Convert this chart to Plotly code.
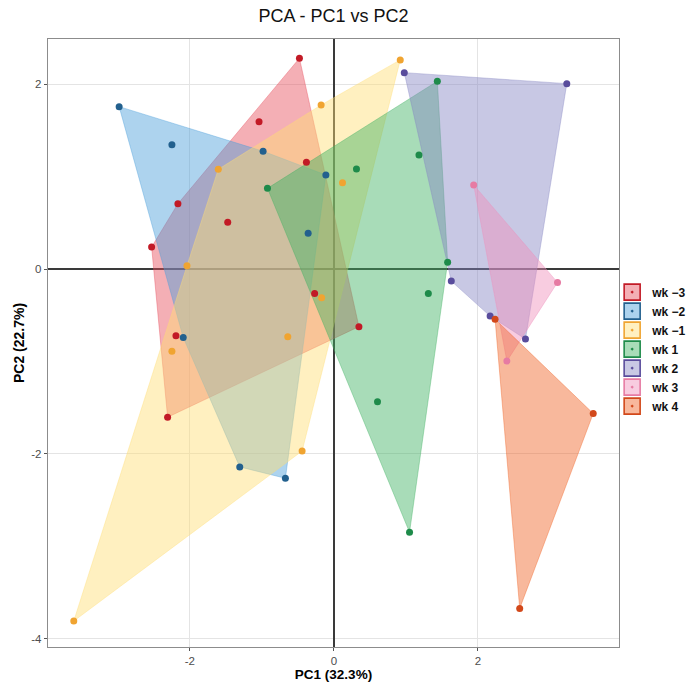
import plotly.graph_objects as go

# ---- data ----
groups = ["wk −3", "wk −2", "wk −1", "wk 1", "wk 2", "wk 3", "wk 4"]

pc1_wk_m3 = [-0.478, -1.039, -0.381, -2.166, -1.474, -2.531, -0.267, 0.348, -2.193, -2.309]
pc2_wk_m3 = [2.282, 1.595, 1.156, 0.707, 0.506, 0.238, -0.263, -0.623, -0.722, -1.603]

pc1_wk_m2 = [-2.982, -2.249, -0.983, -0.111, -0.357, -2.092, -1.307, -0.673]
pc2_wk_m2 = [1.758, 1.346, 1.275, 1.018, 0.388, -0.740, -2.141, -2.264]

pc1_wk_m1 = [0.922, -0.177, -1.605, 0.120, -2.040, -0.170, -0.640, -2.249, -0.441, -3.612]
pc2_wk_m1 = [2.264, 1.776, 1.080, 0.935, 0.036, -0.309, -0.733, -0.888, -1.969, -3.809]

pc1_wk_1 = [1.437, 1.182, -0.922, 0.314, 1.580, 1.312, 0.606, 1.051]
pc2_wk_1 = [2.033, 1.235, 0.874, 1.083, 0.074, -0.263, -1.437, -2.848]

pc1_wk_2 = [0.978, 3.235, 1.631, 2.170, 2.661]
pc2_wk_2 = [2.126, 2.007, -0.130, -0.509, -0.758]

pc1_wk_3 = [1.942, 3.106, 2.403]
pc2_wk_3 = [0.910, -0.144, -0.996]

pc1_wk_4 = [2.239, 3.602, 2.581]
pc2_wk_4 = [-0.542, -1.563, -3.672]

pc1_all = [pc1_wk_m3, pc1_wk_m2, pc1_wk_m1, pc1_wk_1, pc1_wk_2, pc1_wk_3, pc1_wk_4]
pc2_all = [pc2_wk_m3, pc2_wk_m2, pc2_wk_m1, pc2_wk_1, pc2_wk_2, pc2_wk_3, pc2_wk_4]

x_ticks = [-2, 0, 2]
x_tick_labels = ["-2", "0", "2"]
y_ticks = [-4, -2, 0, 2]
y_tick_labels = ["-4", "-2", "0", "2"]

# ---- styles ----
point_colors = ["#C21A26", "#22608E", "#F0A431", "#1E8B4A", "#594C9C", "#E67BA3", "#D2481A"]
fill_bases = [(231, 77, 91), (73, 157, 217), (255, 222, 115), (62, 177, 97),
              (133, 133, 195), (239, 142, 186), (239, 97, 35)]
fill_alpha = 0.45


def rgba(c, a):
    return "rgba(%d,%d,%d,%.3f)" % (c[0], c[1], c[2], a)


def convex_hull(xs, ys):
    pts = sorted(set(zip(xs, ys)))
    if len(pts) <= 2:
        return pts

    def cross(o, a, b):
        return (a[0] - o[0]) * (b[1] - o[1]) - (a[1] - o[1]) * (b[0] - o[0])

    lower = []
    for p in pts:
        while len(lower) >= 2 and cross(lower[-2], lower[-1], p) <= 0:
            lower.pop()
        lower.append(p)
    upper = []
    for p in reversed(pts):
        while len(upper) >= 2 and cross(upper[-2], upper[-1], p) <= 0:
            upper.pop()
        upper.append(p)
    return lower[:-1] + upper[:-1]


fig = go.Figure()

# hull polygons
for g, xs, ys, fb in zip(groups, pc1_all, pc2_all, fill_bases):
    hull = convex_hull(xs, ys)
    hx = [p[0] for p in hull] + [hull[0][0]]
    hy = [p[1] for p in hull] + [hull[0][1]]
    fig.add_trace(go.Scatter(
        x=hx, y=hy, mode="lines", fill="toself",
        fillcolor=rgba(fb, fill_alpha),
        line=dict(color=rgba(fb, 0.55), width=0.7),
        legendgroup=g, showlegend=False, hoverinfo="skip"))

# points
for g, xs, ys, pc in zip(groups, pc1_all, pc2_all, point_colors):
    fig.add_trace(go.Scatter(
        x=xs, y=ys, mode="markers", name=g, legendgroup=g, showlegend=False,
        marker=dict(color=pc, size=7)))

# legend entries
for g, pc, fb in zip(groups, point_colors, fill_bases):
    fig.add_trace(go.Scatter(
        x=[None], y=[None], mode="markers", name=g, legendgroup=g,
        marker=dict(symbol="square-dot", size=16, color=rgba(fb, fill_alpha),
                    line=dict(color=pc, width=1.6))))

font_family = "Liberation Sans, Arial, sans-serif"

fig.update_layout(
    width=687, height=682,
    margin=dict(l=48, r=68, t=39, b=35, autoexpand=False),
    paper_bgcolor="white", plot_bgcolor="white",
    font=dict(family=font_family, color="#000000"),
    title=dict(text="PCA - PC1 vs PC2", x=(333.5 / 687), xanchor="center",
               y=1 - 16 / 682, yanchor="middle", yref="container",
               font=dict(size=18, color="#111111", family=font_family)),
    legend=dict(x=0.988, xanchor="left", y=0.49, yanchor="middle",
                font=dict(size=12, color="#111111", family=font_family, weight="bold"),
                bgcolor="rgba(0,0,0,0)", itemwidth=30, tracegroupgap=0),
    showlegend=True,
)

common_axis = dict(
    showgrid=True, gridcolor="#E4E4E4", gridwidth=1,
    zeroline=True, zerolinecolor="#3A3A3A", zerolinewidth=1.6,
    showline=True, mirror=True, linecolor="#8C8C8C", linewidth=1.4,
    ticks="outside", ticklen=3, tickcolor="#555555", tickwidth=1,
    tickfont=dict(size=11.5, color="#4D4D4D", family=font_family),
)

fig.update_xaxes(range=[-3.97, 3.96], tickvals=x_ticks, ticktext=x_tick_labels,
                 title=dict(text="PC1 (32.3%)", standoff=10,
                            font=dict(size=13.5, color="#000000", family=font_family, weight="bold")),
                 **common_axis)
fig.update_yaxes(range=[-4.09, 2.49], tickvals=y_ticks, ticktext=y_tick_labels,
                 title=dict(text="PC2 (22.7%)", standoff=3,
                            font=dict(size=14, color="#000000", family=font_family, weight="bold")),
                 **common_axis)

fig.write_html("out.html")
